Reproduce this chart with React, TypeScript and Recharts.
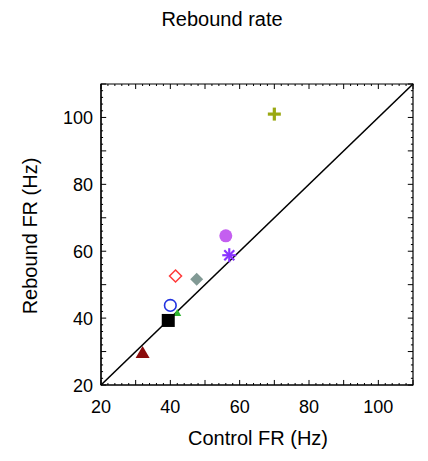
import React from "react";
import {
  ScatterChart, Scatter, XAxis, YAxis, ReferenceLine, ReferenceArea,
} from "recharts";

// one point per cell type, each with its own marker
const markerKinds = ["plus", "dot", "star", "openDiamond", "diamond", "openCircle", "tri", "square", "triangle"];
const markerColors = ["#9aa812", "#c45ff0", "#8a33ff", "#ff3a3a", "#829a95", "#2233e0", "#2fb52f", "#000000", "#8b0b0b"];
const controlFR = [70, 56, 57, 41.5, 47.6, 40, 42, 39.4, 32];
const reboundFR = [101, 64.6, 58.8, 52.6, 51.6, 43.8, 41.5, 39.3, 29.6];

const axisTicks = [20, 22, 24, 26, 28, 30, 32, 34, 36, 38, 40, 42, 44, 46, 48, 50, 52, 54, 56, 58, 60, 62, 64, 66, 68, 70, 72, 74, 76, 78, 80, 82, 84, 86, 88, 90, 92, 94, 96, 98, 100, 102, 104, 106, 108, 110];
const labelTicks = [20, 40, 60, 80, 100];

const FONT = "'Liberation Sans', Arial, sans-serif";
const LO = 20;
const HI = 110;

// inward tick length, in axis units (about 5px major, 2px minor)
function tickLen(v: number) {
  return v % 10 === 0 ? 1.5 : 0.6;
}

function BottomTick({ x, y, payload }: any) {
  const v = payload.value;
  if (!labelTicks.includes(v)) return null;
  return <text x={x} y={y + 28} textAnchor="middle" fontSize={18} fontFamily={FONT} fill="#000">{v}</text>;
}

function LeftTick({ x, y, payload }: any) {
  const v = payload.value;
  if (!labelTicks.includes(v)) return null;
  return <text x={x - 8} y={y + 6.5} textAnchor="end" fontSize={18} fontFamily={FONT} fill="#000">{v}</text>;
}

function Marker({ cx, cy, kind, color }: any) {
  switch (kind) {
    case "plus":
      return (
        <g stroke={color} strokeWidth={3.2}>
          <line x1={cx - 6.5} x2={cx + 6.5} y1={cy} y2={cy} />
          <line x1={cx} x2={cx} y1={cy - 6.5} y2={cy + 6.5} />
        </g>
      );
    case "dot":
      return <circle cx={cx} cy={cy} r={6.5} fill={color} />;
    case "star":
      return (
        <g stroke={color} strokeWidth={2.2}>
          <line x1={cx - 7} x2={cx + 7} y1={cy} y2={cy} />
          <line x1={cx} x2={cx} y1={cy - 7} y2={cy + 7} />
          <line x1={cx - 5} x2={cx + 5} y1={cy - 5} y2={cy + 5} />
          <line x1={cx - 5} x2={cx + 5} y1={cy + 5} y2={cy - 5} />
        </g>
      );
    case "openDiamond":
      return <polygon points={`${cx},${cy - 6} ${cx + 6},${cy} ${cx},${cy + 6} ${cx - 6},${cy}`} fill="none" stroke={color} strokeWidth={1.5} />;
    case "diamond":
      return <polygon points={`${cx},${cy - 6.5} ${cx + 6.5},${cy} ${cx},${cy + 6.5} ${cx - 6.5},${cy}`} fill={color} />;
    case "openCircle":
      return <circle cx={cx} cy={cy} r={5.8} fill="none" stroke={color} strokeWidth={1.6} />;
    case "tri":
      return <polygon points={`${cx},${cy - 4} ${cx + 4},${cy + 3} ${cx - 4},${cy + 3}`} fill={color} />;
    case "square":
      return <rect x={cx - 6.5} y={cy - 6.5} width={13} height={13} fill={color} />;
    case "triangle":
      return <polygon points={`${cx},${cy - 7} ${cx + 7},${cy + 5} ${cx - 7},${cy + 5}`} fill={color} />;
    default:
      return null;
  }
}

const drawOrder = [6, 8, 7, 5, 4, 3, 1, 2, 0];

export default function App() {
  return (
    <div style={{ position: "absolute", left: 0, top: 0, width: 428, height: 461, background: "#fff" }}>
      <ScatterChart width={428} height={461} margin={{ top: 84, right: 15, bottom: 16, left: 41 }}>
        <XAxis xAxisId="b" type="number" dataKey="x" domain={[LO, HI]} ticks={axisTicks} interval={0}
          allowDataOverflow height={60} tickSize={0} tickMargin={0} stroke="#000" strokeWidth={1.2}
          tick={(p: any) => <BottomTick {...p} />} />
        <YAxis yAxisId="l" type="number" dataKey="y" domain={[LO, HI]} ticks={axisTicks} interval={0}
          allowDataOverflow width={60} tickSize={0} tickMargin={0} stroke="#000" strokeWidth={1.2}
          tick={(p: any) => <LeftTick {...p} />} />
        <ReferenceArea xAxisId="b" yAxisId="l" x1={LO} x2={HI} y1={LO} y2={HI} fill="none" fillOpacity={0}
          stroke="#000" strokeWidth={1.2} ifOverflow="visible" />
        {axisTicks.map((t) => (
          <React.Fragment key={"tk" + t}>
            <ReferenceLine xAxisId="b" yAxisId="l" segment={[{ x: t, y: LO }, { x: t, y: LO + tickLen(t) }]} stroke="#000" strokeWidth={1} />
            <ReferenceLine xAxisId="b" yAxisId="l" segment={[{ x: t, y: HI }, { x: t, y: HI - tickLen(t) }]} stroke="#000" strokeWidth={1} />
            <ReferenceLine xAxisId="b" yAxisId="l" segment={[{ x: LO, y: t }, { x: LO + tickLen(t), y: t }]} stroke="#000" strokeWidth={1} />
            <ReferenceLine xAxisId="b" yAxisId="l" segment={[{ x: HI, y: t }, { x: HI - tickLen(t), y: t }]} stroke="#000" strokeWidth={1} />
          </React.Fragment>
        ))}
        <ReferenceLine xAxisId="b" yAxisId="l" segment={[{ x: LO, y: LO }, { x: HI, y: HI }]} stroke="#000" strokeWidth={1.6} />
        {drawOrder.map((i) => (
          <Scatter key={i} xAxisId="b" yAxisId="l" data={[{ x: controlFR[i], y: reboundFR[i] }]}
            isAnimationActive={false}
            shape={(p: any) => <Marker cx={p.cx} cy={p.cy} kind={markerKinds[i]} color={markerColors[i]} />} />
        ))}
      </ScatterChart>
      <svg width={428} height={461} style={{ position: "absolute", left: 0, top: 0, pointerEvents: "none" }}>
        <text x={222} y={26} textAnchor="middle" fontSize={20} fontFamily={FONT} fill="#000">Rebound rate</text>
        <text x={258} y={445} textAnchor="middle" fontSize={20} fontFamily={FONT} fill="#000">Control FR (Hz)</text>
        <text transform="translate(37,236) rotate(-90)" textAnchor="middle" fontSize={20} fontFamily={FONT} fill="#000">Rebound FR (Hz)</text>
      </svg>
    </div>
  );
}
